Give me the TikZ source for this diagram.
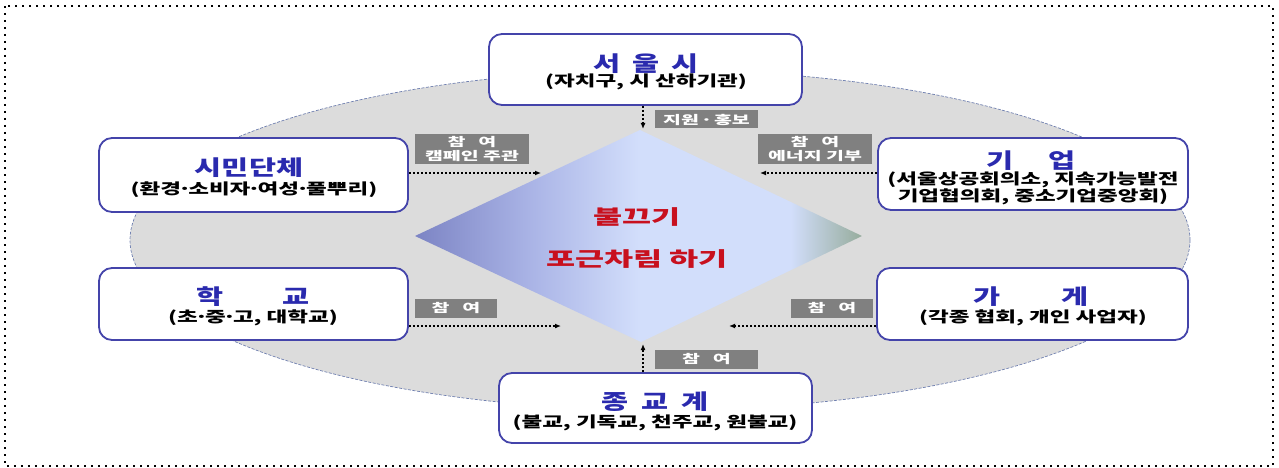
\documentclass[tikz,border=0pt]{standalone}
\usepackage{fontspec}
\setmainfont{Noto Sans CJK KR}
\usetikzlibrary{arrows.meta}
\definecolor{ellfill}{HTML}{DCDCDC}
\definecolor{elldraw}{HTML}{7080B0}
\definecolor{boxdraw}{HTML}{4444AA}
\definecolor{titleblue}{HTML}{2A2AAE}
\definecolor{lblgray}{HTML}{808080}
\definecolor{redtxt}{HTML}{C8101E}
\definecolor{dA}{HTML}{7C84C4}
\definecolor{dB}{HTML}{AAB4E6}
\definecolor{dC}{HTML}{D2DEFB}
\definecolor{dD}{HTML}{96AC9C}
\pgfdeclarehorizontalshading{diamshade}{100bp}{color(0bp)=(dA); color(25bp)=(dA); color(38bp)=(dB); color(50bp)=(dC); color(67bp)=(dC); color(75bp)=(dD); color(100bp)=(dD)}
\newcommand\mywide[1]{\scalebox{1.4}[1]{#1}}
\newcommand\subwide[1]{\scalebox{1.5}[1]{#1}}
\newcommand\lblwide[1]{\scalebox{1.62}[1]{#1}}
\newcommand\dwide[1]{\scalebox{1.58}[1]{#1}}
\newcommand\md{\makebox[0.32em][c]{·}}
\tikzset{
  outerbox/.style={draw=black, line width=2pt, dash pattern=on 2pt off 5pt},
  ellstyle/.style={fill=ellfill, draw=elldraw, line width=0.7pt, dash pattern=on 3pt off 1.5pt},
  orgbox/.style={draw=boxdraw, line width=1.8pt, fill=white, rounded corners=13pt},
  ttl/.style={inner sep=0pt, text=titleblue, font=\fontsize{21}{24}\selectfont\bfseries},
  sub/.style={inner sep=0pt, text=black, font=\fontsize{15}{17}\selectfont\bfseries},
  lbl/.style={fill=lblgray, text=white, inner sep=0pt, font=\fontsize{12}{13}\selectfont\bfseries, align=center},
  dottedarrow/.style={draw=black, line width=2pt, dash pattern=on 2pt off 2pt, -{Latex[length=6pt,width=5pt]}},
  dtxt/.style={inner sep=0pt, text=redtxt, font=\fontsize{20}{22}\selectfont\bfseries}
}
\begin{document}
\begin{tikzpicture}[x=1pt,y=-1pt]
\useasboundingbox (0,0) rectangle (1279,468);
\draw[outerbox] (5,6) rectangle (1273,466);
\draw[ellstyle] (660,240) ellipse [x radius=530, y radius=170];
\path[shading=diamshade] (415,236) -- (640,130) -- (862,236) -- (641,342) -- cycle;
\node[dtxt] (d1) at (637,217) {\dwide{불끄기}};
\node[dtxt] (d2) at (637,259) {\dwide{포근차림 하기}};
% boxes
\node[orgbox, minimum width=313pt, minimum height=71pt] (seoul) at (645.5,69.5) {};
\node[orgbox, minimum width=309pt, minimum height=74pt] (simin) at (253.5,175) {};
\node[orgbox, minimum width=310pt, minimum height=72pt] (giup) at (1033,174) {};
\node[orgbox, minimum width=309pt, minimum height=72pt] (hakgyo) at (253.5,304) {};
\node[orgbox, minimum width=311pt, minimum height=72pt] (gage) at (1032.5,304) {};
\node[orgbox, minimum width=313pt, minimum height=70pt] (jong) at (655.5,408) {};
% texts
\node[ttl] (seoulT) at (646,64) {\mywide{서\hspace{8.5pt}울\hspace{8.5pt}시}};
\node[sub] (seoulS) at (646,82) {\subwide{(자치구, 시 산하기관)}};
\node[ttl] (siminT) at (249,168) {\mywide{시민단체}};
\node[sub] (siminS) at (254,190) {\subwide{(환경\md 소비자\md 여성\md 풀뿌리)}};
\node[ttl] (giupT) at (1031,161) {\mywide{기\hspace{24.5pt}업}};
\node[sub] (giupS1) at (1033,180) {\subwide{(서울상공회의소, 지속가능발전}};
\node[sub] (giupS2) at (1033,197) {\subwide{기업협의회, 중소기업중앙회)}};
\node[ttl] (hakT) at (253,297) {\mywide{학\hspace{42pt}교}};
\node[sub] (hakS) at (253,318) {\subwide{(초\md 중\md 고, 대학교)}};
\node[ttl] (gageT) at (1031,297) {\mywide{가\hspace{44pt}게}};
\node[sub] (gageS) at (1033,318) {\subwide{(각종 협회, 개인 사업자)}};
\node[ttl] (jongT) at (655,402) {\mywide{종\hspace{9pt}교\hspace{9pt}계}};
\node[sub] (jongS) at (655,423) {\subwide{(불교, 기독교, 천주교, 원불교)}};
% labels
\node[lbl, minimum width=103pt, minimum height=18pt] (L0) at (706.5,119.5) {\lblwide{지원 \md{} 홍보}};
\node[lbl, minimum width=114pt, minimum height=30pt] (L1) at (472,149) {\lblwide{참\hspace{8pt}여}\\[0.5pt]\lblwide{캠페인 주관}};
\node[lbl, minimum width=114pt, minimum height=30pt] (L2) at (815,149) {\lblwide{참\hspace{8pt}여}\\[0.5pt]\lblwide{에너지 기부}};
\node[lbl, minimum width=82pt, minimum height=19pt] (L3) at (456,308.5) {\lblwide{참\hspace{8pt}여}};
\node[lbl, minimum width=82pt, minimum height=19pt] (L4) at (832,308.5) {\lblwide{참\hspace{8pt}여}};
\node[lbl, minimum width=103pt, minimum height=19pt] (L5) at (706.5,359.5) {\lblwide{참\hspace{8pt}여}};
% arrow ends
\coordinate (a0) at (643,129);
\coordinate (a1) at (541,173);
\coordinate (a2) at (760,173);
\coordinate (a3) at (561,326);
\coordinate (a4) at (729,326);
\coordinate (a5) at (643,344);
\draw[dottedarrow] (seoul.south -| a0) -- (a0);
\draw[dottedarrow] (simin.east |- a1) -- (a1);
\draw[dottedarrow] (giup.west |- a2) -- (a2);
\draw[dottedarrow] (hakgyo.east |- a3) -- (a3);
\draw[dottedarrow] (gage.west |- a4) -- (a4);
\draw[dottedarrow] (jong.north -| a5) -- (a5);
\end{tikzpicture}
\end{document}
